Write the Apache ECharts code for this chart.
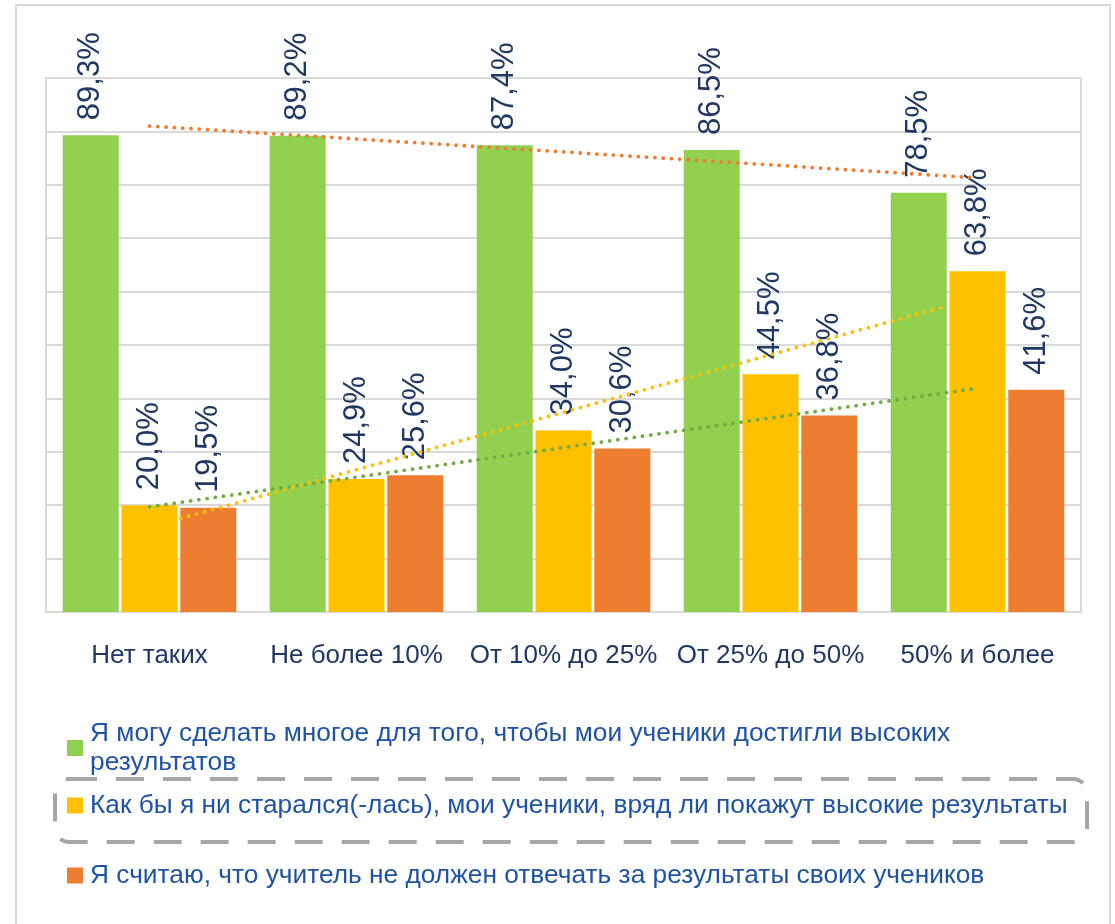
<!DOCTYPE html>
<html>
<head>
<meta charset="utf-8">
<script src="https://cdn.jsdelivr.net/npm/echarts@6/dist/echarts.min.js"></script>
<style>html,body{margin:0;padding:0;background:#fff}#c{width:1115px;height:924px}</style>
</head>
<body>
<div id="c"></div>
<script>
const categories = ['Нет таких', 'Не более 10%', 'От 10% до 25%', 'От 25% до 50%', '50% и более'];
const seriesNames = [
  'Я могу сделать многое для того, чтобы мои ученики достигли высоких результатов',
  'Как бы я ни старался(-лась), мои ученики, вряд ли покажут высокие результаты',
  'Я считаю, что учитель не должен отвечать за результаты своих учеников'
];
const greenValues = [89.3, 89.2, 87.4, 86.5, 78.5];
const yellowValues = [20.0, 24.9, 34.0, 44.5, 63.8];
const orangeValues = [19.5, 25.6, 30.6, 36.8, 41.6];
// trend line end points: [categoryPosition, value]
const trendGreen = [[0, 91.0], [4, 81.3]];
const trendYellow = [[0.15, 17.5], [3.85, 57.3]];
const trendOrange = [[0, 19.7], [4, 41.9]];
const yTicks = {min: 0, max: 100, interval: 10};

const FONT = "'Liberation Sans', Arial, sans-serif";
const NAVY = '#1F3864';
const LEGEND_BLUE = '#1F54A5';
const colors = ['#92D050', '#FFC000', '#ED7D31'];

const chart = echarts.init(document.getElementById('c'), null, {renderer: 'canvas'});
const fmt = v => v.toFixed(1).replace('.', ',') + '%';

function barSeries(i, values) {
  return {
    name: seriesNames[i], type: 'bar', data: values,
    barWidth: 56, barGap: '5%', barCategoryGap: '16%',
    itemStyle: {color: colors[i]},
    label: {
      show: true, position: 'top', rotate: 90, align: 'left', verticalAlign: 'middle',
      distance: 15, color: NAVY, fontFamily: FONT, fontSize: 31,
      formatter: p => fmt(p.value)
    },
    z: 2
  };
}
function trendSeries(data, color) {
  return {
    type: 'line', xAxisIndex: 1, data: data, symbol: 'none', silent: true,
    lineStyle: {color: color, width: 3.8, type: [0.1, 8.2], cap: 'round'},
    z: 5, legendHoverLink: false, tooltip: {show: false}
  };
}
function legendFor(i, top) {
  return {
    data: [seriesNames[i]], left: 62, top: top, orient: 'vertical',
    icon: 'rect', itemWidth: 16, itemHeight: 16, itemGap: 0, selectedMode: false,
    formatter: n => n.replace(' результатов', '\nрезультатов'),
    textStyle: {color: LEGEND_BLUE, fontFamily: FONT, fontSize: 26.3, lineHeight: 29, padding: [0, 0, 0, 2]}
  };
}

chart.setOption({
  animation: false,
  backgroundColor: '#fff',
  grid: {left: 46, right: 34, top: 78, bottom: 312, show: true, borderColor: '#D9D9D9', borderWidth: 2},
  legend: [legendFor(0, 714), legendFor(1, 786), legendFor(2, 856)],
  xAxis: [
    {type: 'category', data: categories, axisTick: {show: false},
     axisLine: {lineStyle: {color: '#D9D9D9', width: 2}},
     axisLabel: {color: NAVY, fontFamily: FONT, fontSize: 26, margin: 31, interval: 0}},
    {type: 'value', min: -0.5, max: 4.5, show: false}
  ],
  yAxis: {type: 'value', min: yTicks.min, max: yTicks.max, interval: yTicks.interval,
    axisLabel: {show: false}, axisLine: {show: false}, axisTick: {show: false},
    splitLine: {lineStyle: {color: '#D9D9D9', width: 2}}},
  graphic: [
    {type: 'rect', shape: {x: 16, y: 5, width: 1094, height: 930}, style: {fill: 'none', stroke: '#D9D9D9', lineWidth: 2}, silent: true},
    {type: 'rect', shape: {x: 55, y: 779, width: 1032, height: 63, r: 14},
     style: {fill: 'none', stroke: '#A6A6A6', lineWidth: 4, lineDash: [28, 19]}, silent: true}
  ],
  series: [
    barSeries(0, greenValues),
    barSeries(1, yellowValues),
    barSeries(2, orangeValues),
    trendSeries(trendGreen, '#ED7D31'),
    trendSeries(trendYellow, '#FFC000'),
    trendSeries(trendOrange, '#70AD47')
  ]
});
</script>
</body>
</html>
